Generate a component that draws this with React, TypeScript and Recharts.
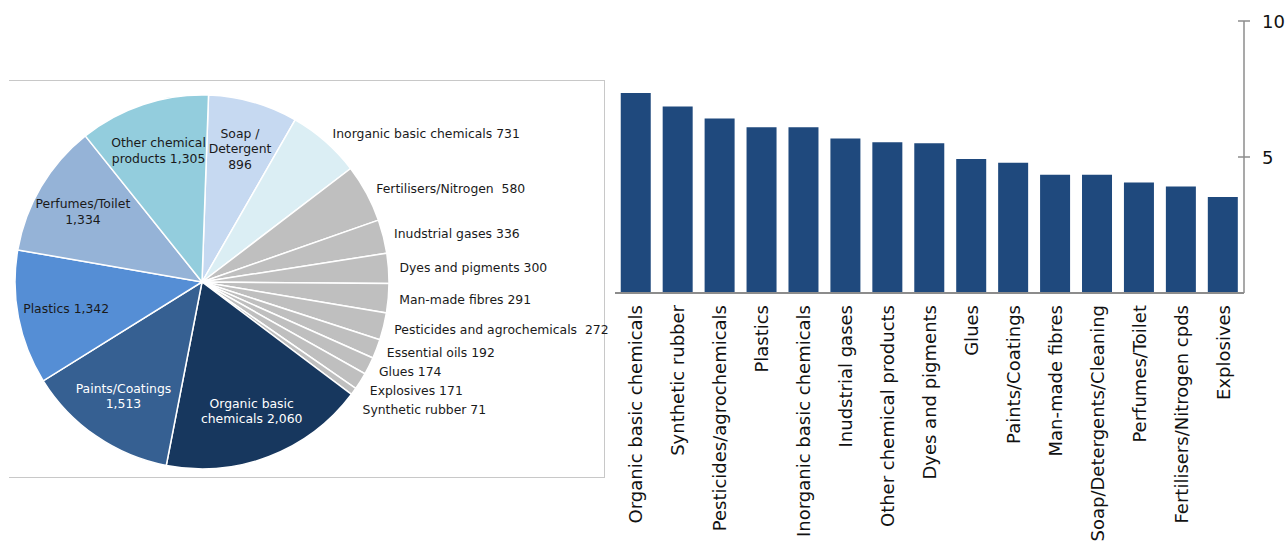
import React from 'react';
import { PieChart, Pie, Cell, BarChart, Bar, XAxis, YAxis } from 'recharts';

// ---------- Pie data (clockwise from 12 o'clock) ----------
const pieCategories = [
  'Soap / Detergent',
  'Inorganic basic chemicals',
  'Fertilisers/Nitrogen',
  'Inudstrial gases',
  'Dyes and pigments',
  'Man-made fibres',
  'Pesticides and agrochemicals',
  'Essential oils',
  'Glues',
  'Explosives',
  'Synthetic rubber',
  'Organic basic chemicals',
  'Paints/Coatings',
  'Plastics',
  'Perfumes/Toilet',
  'Other chemical products',
];
const pieValues = [896, 731, 580, 336, 300, 291, 272, 192, 174, 171, 71, 2060, 1513, 1342, 1334, 1305];
// label text lines; the formatted value is appended to the last line
const pieLabelLines: string[][] = [
  ['Soap /', 'Detergent', ''],
  ['Inorganic basic chemicals'],
  ['Fertilisers/Nitrogen '],
  ['Inudstrial gases'],
  ['Dyes and pigments'],
  ['Man-made fibres'],
  ['Pesticides and agrochemicals '],
  ['Essential oils'],
  ['Glues'],
  ['Explosives'],
  ['Synthetic rubber'],
  ['Organic basic', 'chemicals'],
  ['Paints/Coatings', ''],
  ['Plastics'],
  ['Perfumes/Toilet', ''],
  ['Other chemical', 'products'],
];
const pieColors = [
  '#c6d9f1', '#dbeef4', '#bfbfbf', '#bfbfbf', '#bfbfbf', '#bfbfbf', '#bfbfbf', '#bfbfbf',
  '#bfbfbf', '#bfbfbf', '#bfbfbf', '#17375e', '#366092', '#558ed5', '#95b3d7', '#93cddd',
];
const pieTextColors = [
  '#1a1a1a', '#1a1a1a', '#1a1a1a', '#1a1a1a', '#1a1a1a', '#1a1a1a', '#1a1a1a', '#1a1a1a',
  '#1a1a1a', '#1a1a1a', '#1a1a1a', '#ffffff', '#ffffff', '#1a1a1a', '#1a1a1a', '#1a1a1a',
];

// ---------- Bar data ----------
const barCategories = [
  'Organic basic chemicals',
  'Synthetic rubber',
  'Pesticides/agrochemicals',
  'Plastics',
  'Inorganic basic chemicals',
  'Inudstrial gases',
  'Other chemical products',
  'Dyes and pigments',
  'Glues',
  'Paints/Coatings',
  'Man-made fibres',
  'Soap/Detergents/Cleaning',
  'Perfumes/Toilet',
  'Fertilisers/Nitrogen cpds',
  'Explosives',
];
const barValues = [7.35, 6.86, 6.42, 6.09, 6.09, 5.68, 5.54, 5.51, 4.93, 4.79, 4.35, 4.35, 4.06, 3.92, 3.53];
const yTicks = [5, 10];

const pieData = pieCategories.map((name, i) => ({ name, value: pieValues[i] }));
const barData = barCategories.map((name, i) => ({ name, value: barValues[i] }));

const FONT = 'DejaVu Sans, Verdana, sans-serif';
const RAD = Math.PI / 180;
const START = 88;
const END = START - 360;
const PIE_CX = 202;
const PIE_CY = 282;
const PIE_R = 187;
const OUT_GAP = 11;
const INSIDE_MIN = 0.07;
const AXIS_GRAY = '#8c8c8c';
const Y_TICK_SIZE = 6;
const Y_TICK_MARGIN = 12;

const fmt = (v: number) => v.toLocaleString('en-US');

// resolve vertical overlap of outside labels (label layout only)
const total = pieValues.reduce((a, b) => a + b, 0);
const outsideShift: number[] = (() => {
  const shifts = pieValues.map(() => 0);
  let cum = 0;
  let prevY = -Infinity;
  pieValues.forEach((v, i) => {
    const mid = START - ((cum + v / 2) / total) * 360;
    cum += v;
    if (v / total >= INSIDE_MIN) return;
    const r = PIE_R + OUT_GAP;
    const yNat = PIE_CY + r * Math.sin(-mid * RAD);
    const y = Math.max(yNat, prevY + 19);
    shifts[i] = y - yNat;
    prevY = y;
  });
  return shifts;
})();

const renderPieLabel = (props: any) => {
  const { cx, cy, midAngle, outerRadius, index, value, percent } = props;
  const src = pieLabelLines[index];
  const lines = src.map((l, i) =>
    i === src.length - 1 ? (l === '' ? fmt(value) : `${l} ${fmt(value)}`) : l
  );
  const cos = Math.cos(-midAngle * RAD);
  const sin = Math.sin(-midAngle * RAD);
  if (percent >= INSIDE_MIN) {
    const r = outerRadius * 0.74;
    const x = cx + r * cos;
    const y = cy + r * sin;
    const lh = 15.5;
    const n = lines.length;
    return (
      <text x={x} y={y} textAnchor="middle" fill={pieTextColors[index]} fontSize={12.4} fontFamily={FONT}>
        {lines.map((l, i) => (
          <tspan key={i} x={x} y={y + (i - (n - 1) / 2) * lh} dominantBaseline="central">
            {l}
          </tspan>
        ))}
      </text>
    );
  }
  const r = outerRadius + OUT_GAP;
  const x = cx + r * cos;
  const y = cy + r * sin + outsideShift[index];
  return (
    <text
      x={x}
      y={y}
      textAnchor="start"
      dominantBaseline="central"
      fill={pieTextColors[index]}
      fontSize={12.4}
      fontFamily={FONT}
      style={{ whiteSpace: 'pre' }}
    >
      {lines[0]}
    </text>
  );
};

const XTick = (props: any) => {
  const { x, y, payload } = props;
  return (
    <text
      x={x}
      y={y}
      dx={-12}
      transform={`rotate(-90, ${x}, ${y})`}
      textAnchor="end"
      dominantBaseline="central"
      fontSize={18}
      fontFamily={FONT}
      fill="#111"
    >
      {payload.value}
    </text>
  );
};

// right-axis tick: label plus a tick mark crossing the axis on both sides
const YTick = (props: any) => {
  const { x, y, payload } = props;
  const ax = x - Y_TICK_SIZE - Y_TICK_MARGIN;
  return (
    <g>
      <line x1={ax - 6} x2={ax + 6} y1={y} y2={y} stroke={AXIS_GRAY} strokeWidth={1.5} />
      <text x={x} y={y} textAnchor="start" dominantBaseline="central" fontSize={18} fontFamily={FONT} fill="#111">
        {payload.value}
      </text>
    </g>
  );
};

export default function App() {
  return (
    <div style={{ position: 'absolute', left: 0, top: 0, width: 1286, height: 545, overflow: 'hidden', background: '#fff' }}>
      <div
        style={{
          position: 'absolute',
          left: 9,
          top: 80,
          width: 596,
          height: 398,
          boxSizing: 'border-box',
          borderTop: '1px solid #c8c8c8',
          borderBottom: '1px solid #c8c8c8',
          borderRight: '1px solid #c8c8c8',
        }}
      />
      <div style={{ position: 'absolute', left: 0, top: 0 }}>
        <PieChart width={620} height={545} margin={{ top: 0, right: 0, bottom: 0, left: 0 }}>
          <Pie
            data={pieData}
            dataKey="value"
            nameKey="name"
            cx={PIE_CX}
            cy={PIE_CY}
            outerRadius={PIE_R}
            startAngle={START}
            endAngle={END}
            stroke="#ffffff"
            strokeWidth={1.5}
            labelLine={false}
            label={renderPieLabel}
            isAnimationActive={false}
          >
            {pieData.map((d, i) => (
              <Cell key={d.name} fill={pieColors[i]} />
            ))}
          </Pie>
        </PieChart>
      </div>
      <div style={{ position: 'absolute', left: 600, top: 0 }}>
        <BarChart
          width={686}
          height={545}
          data={barData}
          margin={{ top: 21, right: 3, bottom: 0, left: 15 }}
          barCategoryGap="13.7%"
        >
          <XAxis
            dataKey="name"
            interval={0}
            height={252}
            tickLine={false}
            tickSize={0}
            tickMargin={0}
            axisLine={{ stroke: AXIS_GRAY, strokeWidth: 2 }}
            tick={<XTick />}
          />
          <YAxis
            orientation="right"
            width={39}
            domain={[0, 10]}
            ticks={yTicks}
            tickSize={Y_TICK_SIZE}
            tickMargin={Y_TICK_MARGIN}
            axisLine={{ stroke: AXIS_GRAY, strokeWidth: 1.5 }}
            tickLine={false}
            tick={<YTick />}
          />
          <Bar dataKey="value" fill="#1f497d" isAnimationActive={false} />
        </BarChart>
      </div>
    </div>
  );
}
